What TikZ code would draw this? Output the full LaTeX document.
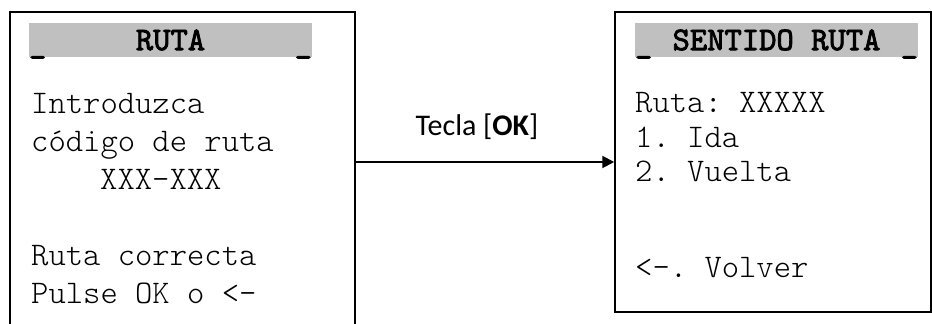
\documentclass[tikz,border=0pt]{standalone}
\usepackage{fontspec}
\setsansfont{Carlito}
\setmonofont{lmmonolt10-regular.otf}
\newfontfamily\titulofont{lmmono10-regular.otf}[AutoFakeBold=2.5]
\usetikzlibrary{positioning, arrows.meta}

\definecolor{gristitulo}{RGB}{192,192,192}

\tikzset{
  pantalla/.style={draw, line width=1.5pt, inner sep=0pt},
  banda/.style={fill=gristitulo, inner sep=0pt, minimum width=283pt, minimum height=34pt,
    font=\titulofont\bfseries\fontsize{33}{38}\selectfont},
  linea/.style={anchor=base west, inner sep=0pt, font=\ttfamily\fontsize{33}{38}\selectfont},
  raya/.style={inner sep=0pt, font=\titulofont\bfseries\fontsize{33}{38}\selectfont},
  etiqueta/.style={anchor=base, inner sep=0pt, font=\sffamily\fontsize{30}{34}\selectfont},
  flecha/.style={line width=2pt, -{Triangle[length=12pt,width=12pt]}}
}

\begin{document}
\begin{tikzpicture}[x=1pt, y=1pt]
\useasboundingbox (0,0) rectangle (932,324);
\clip (0,0) rectangle (932,324);

% pantalla de ruta
\node[pantalla, minimum width=345pt, minimum height=320pt] (ruta) at (182.5,152) {};
\node[banda] (tituloruta) at (170.5,284) {RUTA};
\node[raya, anchor=base west] (rayaruta1) at ([yshift=-13pt]tituloruta.west) {\_};
\node[raya, anchor=base east] (rayaruta2) at ([yshift=-13pt]tituloruta.east) {\_};
\node[linea] (r1) at (31,210) {Introduzca};
\node[linea] (r2) at (31,172) {código de ruta};
\node[linea] (r3) at (100,134) {XXX-XXX};
\node[linea] (r4) at (31,58) {Ruta correcta};
\node[linea] (r5) at (31,20) {Pulse OK o <-};

% pantalla de sentido
\node[pantalla, minimum width=316pt, minimum height=300pt] (sentido) at (773,162) {};
\node[banda] (titulosentido) at (776.5,284) {SENTIDO RUTA};
\node[raya, anchor=base west] (rayasentido1) at ([yshift=-13pt]titulosentido.west) {\_};
\node[raya, anchor=base east] (rayasentido2) at ([yshift=-13pt]titulosentido.east) {\_};
\node[linea] (s1) at (635,211) {Ruta: XXXXX};
\node[linea] (s2) at (635,176) {1. Ida};
\node[linea] (s3) at (635,142) {2. Vuelta};
\node[linea] (s4) at (635,46.5) {<-. Volver};

% transicion
\node[etiqueta] (tecla) at (477,188) {Tecla [\textbf{OK}]};
\draw[flecha] (sentido.west -| ruta.east) -- (sentido.west);
\end{tikzpicture}
\end{document}
